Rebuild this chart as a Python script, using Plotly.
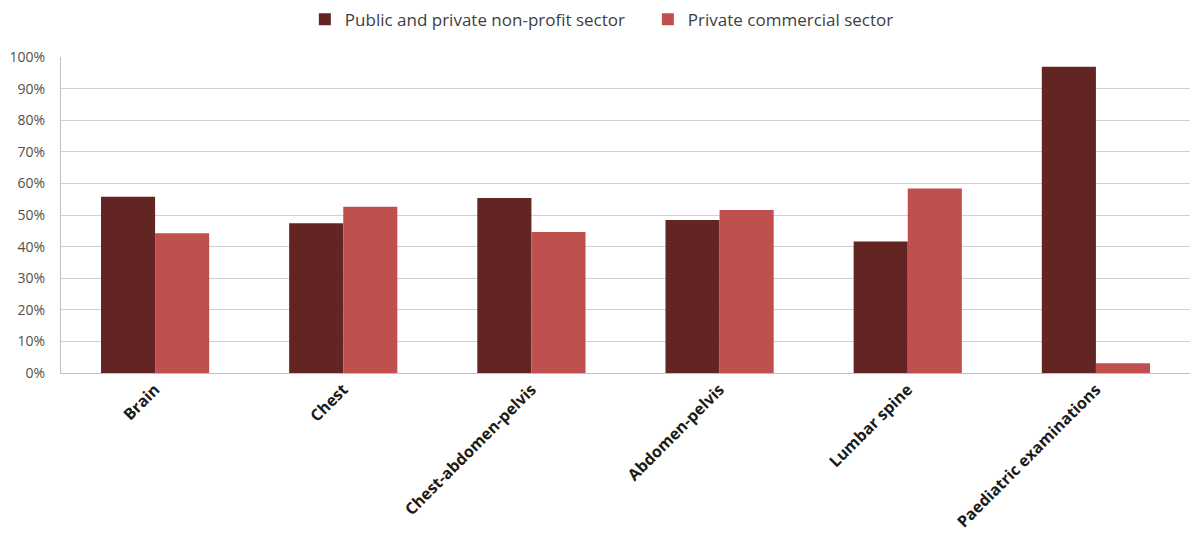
import plotly.graph_objects as go

categories = ["Brain", "Chest", "Chest-abdomen-pelvis", "Abdomen-pelvis",
              "Lumbar spine", "Paediatric examinations"]
public_nonprofit = [55.8, 47.4, 55.4, 48.4, 41.6, 96.9]
private_commercial = [44.2, 52.6, 44.6, 51.6, 58.4, 3.1]
y_ticks = [0, 10, 20, 30, 40, 50, 60, 70, 80, 90, 100]
y_tick_labels = [f"{v}%" for v in y_ticks]

fig = go.Figure()
fig.add_trace(go.Bar(
    name="Public and private non-profit sector",
    x=categories, y=public_nonprofit,
    marker=dict(color="#632523", line=dict(width=0)),
))
fig.add_trace(go.Bar(
    name="Private commercial sector",
    x=categories, y=private_commercial,
    marker=dict(color="#C0504D", line=dict(width=0)),
))

fig.update_layout(
    width=1190, height=540,
    margin=dict(l=61, r=0, t=57, b=167),
    paper_bgcolor="white", plot_bgcolor="white",
    barmode="group", bargap=0.425, bargroupgap=0,
    font=dict(family="Open Sans, Lato, sans-serif", size=13, color="#404040"),
    legend=dict(
        orientation="h", x=0.216, xanchor="left", y=0.997, yanchor="top",
        yref="container", font=dict(size=17, color="#404040"),
        itemwidth=30, entrywidth=298, tracegroupgap=0,
    ),
    xaxis=dict(
        tickangle=-45,
        tickfont=dict(size=16, color="#1a1a1a", family="Open Sans, sans-serif", weight="bold"),
        showline=True, linecolor="#bfbfbf", linewidth=1,
        showgrid=False, ticks="",
    ),
    yaxis=dict(
        range=[0, 100], tickvals=y_ticks, ticktext=y_tick_labels,
        showgrid=True, gridcolor="#d0d0d0", gridwidth=1,
        showline=True, linecolor="#bfbfbf", linewidth=1,
        tickfont=dict(size=14, color="#505050"),
        ticklabelstandoff=12, zeroline=False,
    ),
)

fig.write_html("out.html")
